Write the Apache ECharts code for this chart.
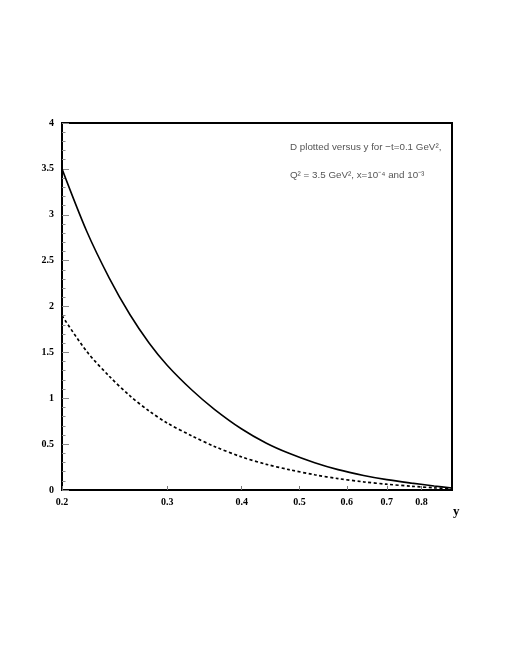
<!DOCTYPE html>
<html><head><meta charset="utf-8">
<script src="https://cdn.jsdelivr.net/npm/echarts@6/dist/echarts.min.js"></script>
<style>html,body{margin:0;padding:0;background:#fff}#c{width:505px;height:654px}</style>
</head><body><div id="c"></div>
<script>
const yValues = [0.2, 0.22, 0.24, 0.26, 0.28, 0.3, 0.33, 0.36, 0.4, 0.44, 0.48, 0.53, 0.58, 0.64, 0.7, 0.77, 0.84, 0.9];
const dSolid  = [3.50, 2.82, 2.31, 1.91, 1.60, 1.36, 1.09, 0.88, 0.665, 0.51, 0.40, 0.297, 0.222, 0.159, 0.113, 0.075, 0.044, 0.021];
const dDashed = [1.90, 1.51, 1.24, 1.025, 0.86, 0.73, 0.59, 0.475, 0.36, 0.28, 0.222, 0.166, 0.124, 0.089, 0.063, 0.041, 0.024, 0.012];
const xTickLabels = [0.2, 0.3, 0.4, 0.5, 0.6, 0.7, 0.8];
const yTickLabels = [0, 0.5, 1, 1.5, 2, 2.5, 3, 3.5, 4];
const xAxisName = 'y';
const annotationLines = ['D plotted versus y for \u2212t=0.1 GeV\u00b2,', 'Q\u00b2 = 3.5 GeV\u00b2, x=10\u207b\u2074 and 10\u207b\u00b3'];

const chart = echarts.init(document.getElementById('c'), null, {renderer: 'canvas'});
const labelFont = {fontFamily: 'Liberation Serif', fontWeight: 'bold', fontSize: 10, color: '#000'};
chart.setOption({
  animation: false,
  backgroundColor: '#fff',
  grid: {left: 62, top: 123, right: 53, bottom: 164, show: true, borderColor: '#000', borderWidth: 2, backgroundColor: 'transparent'},
  xAxis: {
    type: 'log', logBase: 10, min: 0.2, max: 0.9,
    axisLine: {show: true, onZero: false, lineStyle: {color: '#000', width: 2}},
    axisTick: {show: true, inside: true, length: 4, lineStyle: {color: '#777', width: 1}, customValues: xTickLabels},
    axisLabel: Object.assign({margin: 7, customValues: xTickLabels, formatter: v => String(Math.round(v * 10) / 10)}, labelFont),
    splitLine: {show: false}, minorTick: {show: false}
  },
  yAxis: {
    type: 'value', min: 0, max: 4, interval: 0.5,
    axisLine: {show: true, lineStyle: {color: '#000', width: 2}},
    axisTick: {show: true, inside: true, length: 7, lineStyle: {color: '#888', width: 1}},
    minorTick: {show: true, splitNumber: 5, length: 3.5, lineStyle: {color: '#888', width: 1}},
    axisLabel: Object.assign({margin: 8, customValues: yTickLabels}, labelFont),
    splitLine: {show: false}
  },
  series: [
    {type: 'line', data: yValues.map((x, i) => [x, dSolid[i]]), showSymbol: false, smooth: 0.3, clip: true,
     lineStyle: {color: '#000', width: 1.6, type: 'solid'}},
    {type: 'line', data: yValues.map((x, i) => [x, dDashed[i]]), showSymbol: false, smooth: 0.3, clip: true,
     lineStyle: {color: '#000', width: 1.7, type: [3, 2.5]}}
  ],
  graphic: [
    {type: 'text', left: 453, top: 505, style: {text: xAxisName, font: 'bold 13px "Liberation Serif"', fill: '#000'}},
    {type: 'text', left: 290, top: 142, style: {text: annotationLines[0], font: '9.8px "Liberation Sans"', fill: '#555'}},
    {type: 'text', left: 290, top: 170, style: {text: annotationLines[1], font: '9.8px "Liberation Sans"', fill: '#555'}}
  ]
});
</script></body></html>
